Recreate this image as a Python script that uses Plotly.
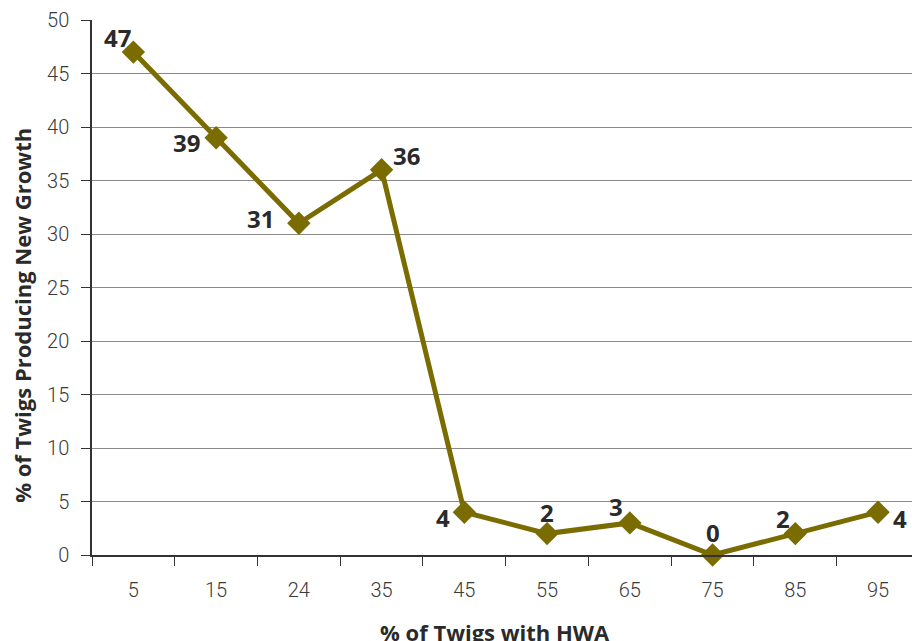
import plotly.graph_objects as go

# Infestation classes (% of twigs with HWA) and share of twigs with new growth
hwa_classes = ["5", "15", "24", "35", "45", "55", "65", "75", "85", "95"]
new_growth = [47, 39, 31, 36, 4, 2, 3, 0, 2, 4]

y_ticks = [0, 5, 10, 15, 20, 25, 30, 35, 40, 45, 50]

# pixel offsets of each value label from its marker
label_dx = [-16, -30, -38, 25, -21, 0, -14, 0, -12, 22]
label_dy = [15, -5, 5, 14, -5, 21, 16, 23, 15, -6]

line_color = "#7a6c00"
text_color = "#2a2a2a"
label_font = dict(family="Open Sans", size=24, color=text_color, weight="bold")
title_font = dict(family="Open Sans", size=22, color=text_color, weight="bold")
tick_font = dict(family="Roboto", size=20, color="#3a3a3a", weight=300)

fig = go.Figure(
    go.Scatter(
        x=hwa_classes,
        y=new_growth,
        mode="lines+markers",
        line=dict(color=line_color, width=5),
        marker=dict(symbol="diamond", size=18, color=line_color),
        cliponaxis=False,
        hoverinfo="x+y",
    )
)

# value labels; on a category axis annotations are placed by category index
annotations = [
    dict(
        x=i, y=val, xref="x", yref="y",
        text=str(val), showarrow=False,
        xanchor="center", yanchor="middle",
        xshift=dx, yshift=dy,
        font=label_font,
    )
    for i, (val, dx, dy) in enumerate(zip(new_growth, label_dx, label_dy))
]

annotations += [
    dict(
        text="% of Twigs with HWA",
        xref="paper", yref="paper",
        x=0.491, y=0, yshift=-77,
        xanchor="center", yanchor="middle",
        showarrow=False,
        font=title_font,
    ),
    dict(
        text="% of Twigs Producing New Growth",
        xref="paper", yref="paper",
        x=0, xshift=-70, y=0.447,
        xanchor="center", yanchor="middle",
        textangle=-90,
        showarrow=False,
        font=title_font,
    ),
]

fig.update_layout(
    width=912,
    height=641,
    margin=dict(l=92, r=0, t=20, b=86),
    paper_bgcolor="white",
    plot_bgcolor="white",
    showlegend=False,
    font=dict(family="Roboto", color="#444"),
    xaxis=dict(
        type="category",
        range=[-0.5, 9.41],
        tickson="boundaries",
        ticks="outside",
        ticklen=9,
        tickcolor="#333",
        tickwidth=1,
        showline=True,
        linecolor="#333",
        linewidth=1.5,
        showgrid=False,
        tickfont=tick_font,
        ticklabelstandoff=16,
        zeroline=False,
    ),
    yaxis=dict(
        range=[0, 50],
        tickvals=y_ticks,
        ticks="outside",
        ticklen=9,
        tickcolor="#333",
        showline=True,
        linecolor="#333",
        linewidth=1.5,
        showgrid=True,
        gridcolor="#8a8a8a",
        gridwidth=1,
        zeroline=False,
        tickfont=tick_font,
        ticklabelstandoff=8,
    ),
    annotations=annotations,
)

fig.write_html("out.html")
